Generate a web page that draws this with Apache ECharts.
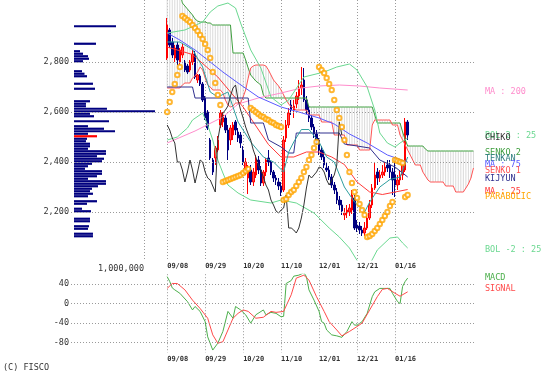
<!DOCTYPE html>
<html><head><meta charset="utf-8">
<script src="https://cdn.jsdelivr.net/npm/echarts@6/dist/echarts.min.js"></script>
<style>html,body{margin:0;padding:0;background:#fff}#c{width:559px;height:382px}</style>
</head><body><div id="c"></div>
<script>
const PAD = 38;      // empty day slots left of 09/08 (volume-by-price area)
const LAST = 122;    // last day slot (cloud projected 26 days ahead)
const dateLabels = ['09/08','09/29','10/20','11/10','12/01','12/21','01/16'];
const dateIdx = [0,15,30,45,60,75,90];
const volLineIdx = -9;
const priceTicks = [2200,2400,2600,2800];
const macdTicks = [40,0,-40,-80];

// daily candles [open, close, low, high], day 0 = 09/08
const candles = [
[2816,2948,2808,2976],[2928,2868,2856,2936],[2880,2828,2816,2896],[2816,2856,2800,2868],[2868,2808,2788,2880],
[2800,2848,2788,2856],[2828,2860,2816,2872],[2800,2768,2760,2808],[2784,2760,2752,2792],[2768,2800,2760,2808],
[2800,2832,2788,2848],[2832,2740,2732,2844],[2728,2748,2716,2752],[2744,2712,2704,2752],[2712,2648,2640,2720],
[2656,2576,2568,2664],[2600,2536,2528,2608],[2488,2416,2408,2496],[2408,2360,2348,2416],[2416,2456,2388,2464],
[2448,2488,2440,2504],[2548,2596,2536,2608],[2560,2588,2540,2600],[2576,2528,2516,2588],[2528,2448,2408,2548],
[2488,2536,2468,2548],[2508,2548,2488,2560],[2560,2528,2508,2568],[2520,2496,2480,2536],[2508,2476,2456,2520],
[2448,2400,2388,2464],[2368,2400,2348,2416],[2336,2368,2272,2388],[2368,2320,2308,2388],[2320,2360,2304,2376],
[2348,2408,2336,2428],[2408,2368,2352,2424],[2368,2316,2304,2384],[2316,2360,2304,2368],[2360,2408,2344,2416],
[2416,2400,2384,2448],[2400,2360,2348,2408],[2360,2336,2320,2368],[2336,2328,2308,2348],[2320,2304,2288,2336],
[2304,2280,2264,2320],[2288,2488,2280,2504],[2496,2548,2480,2568],[2548,2596,2536,2616],[2628,2608,2588,2648],
[2608,2624,2576,2648],[2632,2664,2616,2680],[2664,2696,2648,2728],[2696,2708,2668,2780],[2728,2648,2640,2776],
[2648,2608,2592,2664],[2608,2576,2560,2624],[2576,2540,2528,2588],[2540,2512,2496,2552],[2512,2488,2468,2528],
[2488,2448,2428,2496],[2448,2420,2408,2464],[2420,2388,2376,2448],[2376,2368,2360,2400],[2368,2340,2328,2384],
[2340,2308,2296,2352],[2308,2288,2272,2320],[2280,2248,2232,2296],[2248,2228,2208,2264],[2228,2204,2188,2248],
[2188,2196,2168,2216],[2196,2208,2176,2228],[2200,2216,2184,2232],[2208,2268,2192,2288],[2256,2136,2128,2268],
[2148,2136,2120,2168],[2144,2128,2112,2160],[2128,2116,2104,2144],[2116,2136,2104,2160],[2136,2176,2128,2192],
[2176,2228,2168,2248],[2228,2296,2216,2312],[2296,2348,2288,2400],[2360,2336,2308,2376],[2336,2348,2320,2368],
[2348,2360,2336,2388],[2360,2380,2344,2400],[2388,2376,2360,2408],[2388,2360,2336,2408],[2360,2328,2268,2376],
[2348,2308,2260,2420],[2308,2328,2288,2348],[2328,2348,2308,2368],[2348,2388,2328,2408],[2368,2560,2360,2576],
[2560,2508,2488,2568]
];

// lagging span (plotted from day 0)
const chiko = [2548,2528,2496,2476,2400,2400,2368,2320,2360,2408,2368,2316,2360,2408,2400,2360,2336,2328,2304,2280,
2488,2548,2596,2608,2624,2664,2696,2708,2648,2608,2576,2540,2512,2488,2448,2420,2388,2368,2340,2308,
2288,2248,2228,2204,2196,2208,2216,2268,2136,2136,2128,2116,2136,2176,2228,2296,2348,2336,2348,2360,
2380,2376,2360,2328,2308,2328,2348,2388,2560,2508];

// leading spans, day 0..121
const senko2 = [3080,3080,3080,3080,3080,3080,3036,3024,3012,3000,2988,2972,2964,2960,2960,2960,2956,2956,
2948,2948,2948,2948,2948,2948,2948,2948,2836,2836,2836,2836,2836,2808,2776,2748,2736,2724,2716,2708,2668,
2656,2656,2656,2656,2656,2656,2656,2656,2656,2656,2656,2656,2656,2656,2656,2656,2656,
2620,2620,2620,2620,2620,2620,2620,2620,2620,2620,2620,2620,2620,2620,2620,2620,2620,2620,2620,2620,2620,2620,2620,2620,2620,2620,
2588,2556,2556,2556,2556,2556,2556,2556,2556,2556,2556,2520,2490,2464,2464,2464,2464,2464,2464,2464,2452,
2444,2444,2444,2444,2444,2444,2444,2444,2444,2444,2444,2444,2444,2444,2444,2444,2444,2444,2444];
const senko1 = [2696,2696,2696,2696,2696,2696,2708,2716,2716,2716,2736,2744,2760,2780,2768,2736,2708,2700,
2688,2688,2688,2688,2676,2648,2628,2620,2624,2636,2636,2636,2660,2688,2736,2776,2784,2788,2788,2788,2788,
2784,2768,2748,2728,2716,2704,2688,2668,2648,2632,2620,2616,2608,2608,2608,2608,2608,2588,2588,2588,2588,2588,
2560,2560,2560,2560,2560,2508,2508,2508,2508,2508,2468,2468,2468,2468,2468,2448,2448,2448,2448,2448,
2548,2568,2568,2568,2568,2568,2568,2568,2548,2548,2548,2508,2488,2468,2448,2428,2408,2388,2388,2388,
2360,2344,2328,2320,2320,2320,2320,2320,2320,2304,2304,2304,2304,2280,2280,2280,2280,2296,2312,2336,2376];

const ma200 = [[0,2476],[11,2524],[22,2580],[28,2632],[36,2656],[45,2676],[53,2696],[60,2704],[68,2708],[76,2704],[84,2696],[95,2688]];
const ma75 = [[0,2916],[5,2888],[11,2848],[17,2800],[22,2760],[28,2716],[36,2660],[45,2620],[52,2600],[60,2576],[66,2552],[72,2512],[79,2476],[87,2428],[95,2400]];
const ma25 = [[0,2860],[10,2830],[20,2740],[30,2620],[40,2470],[45,2420],[50,2420],[55,2440],[60,2440],[65,2420],[70,2390],[75,2320],[80,2280],[85,2270],[90,2280],[95,2290]];
const bolUp = [[0,2916],[7,2928],[14,2960],[17,3000],[20,3024],[24,3036],[27,3016],[29,2956],[33,2848],[37,2776],[41,2660],[45,2628],[48,2648],[54,2740],[62,2760],[67,2780],[72,2792],[75,2768],[79,2700],[82,2608],[84,2516],[87,2476],[90,2460],[92,2476],[95,2496]];
const bolDn = [[0,2488],[4,2500],[8,2536],[10,2568],[14,2596],[16,2548],[18,2488],[20,2408],[22,2356],[24,2308],[28,2276],[33,2248],[41,2236],[45,2248],[51,2236],[58,2196],[64,2136],[68,2100],[72,2056],[76,1990],[80,1990],[83,2048],[88,2096],[91,2100],[93,2076],[95,2056]];
const kijyun = [[0,2700],[10,2700],[11,2656],[32,2656],[33,2556],[38,2556],[40,2488],[45,2460],[48,2436],[50,2436],[51,2516],[68,2516],[70,2472],[80,2456],[84,2408],[90,2380],[95,2340]];
const tenkan = [[0,2880],[5,2880],[10,2850],[14,2780],[17,2680],[20,2660],[24,2680],[28,2560],[33,2480],[38,2420],[42,2400],[46,2360],[48,2440],[50,2480],[53,2530],[56,2530],[60,2480],[63,2420],[66,2400],[70,2300],[74,2240],[78,2200],[80,2240],[84,2300],[88,2330],[92,2340],[95,2420]];
const sar = [2600,2640,2680,2712,2748,2780,2984,2976,2968,2960,2948,2936,2924,2908,2892,2872,2848,2816,2760,2716,2668,2628,
2320,2324,2328,2332,2336,2340,2344,2348,2356,2364,2372,2616,2608,2600,2592,2584,2580,2572,2568,2560,2556,2548,2544,2540,
2248,2252,2268,2280,2288,2304,2320,2336,2360,2380,2408,2428,2456,2480,2780,2768,2756,2736,2712,2688,2648,2608,2576,2540,
2488,2428,2360,2316,2280,2256,2232,2208,2188,2100,2104,2112,2124,2136,2152,2168,2184,2200,2224,2240,2408,2404,2400,2396,2260,2268];

const macd = [[0,55],[1,45],[2,32],[3,28],[5,21],[8,4],[10,-13],[11,-6],[13,-16],[15,-37],[16,-68],[18,-95],[20,-81],[22,-57],[24,-16],[26,-30],[27,-6],[29,-13],[31,-23],[33,-40],[35,-23],[38,-13],[39,-23],[41,-18],[43,-20],[45,-27],[46,-26],[47,41],[49,47],[50,56],[52,58],[54,63],[55,55],[56,28],[58,7],[60,-16],[61,-37],[62,-40],[63,-54],[65,-64],[67,-66],[69,-69],[71,-57],[73,-37],[74,-44],[75,-44],[77,-37],[79,-20],[81,14],[82,24],[84,31],[86,31],[88,31],[89,21],[91,4],[92,0],[93,35],[94,45],[95,52]];
const signal = [[0,31],[2,41],[4,41],[7,28],[10,7],[13,-10],[16,-30],[18,-64],[20,-81],[22,-78],[24,-54],[26,-30],[28,-20],[30,-13],[32,-16],[35,-30],[38,-28],[41,-16],[43,-18],[46,-16],[49,18],[51,52],[54,58],[56,48],[59,14],[62,-16],[64,-37],[67,-54],[69,-66],[72,-57],[75,-47],[77,-40],[80,-13],[83,14],[85,29],[87,31],[90,21],[92,15],[95,24]];

// volume by price
const vpPrice = [2943,2873,2843,2833,2823,2813,2803,2763,2753,2743,2713,2693,2643,2633,2623,2613,2603,2593,2583,2563,2543,2533,2523,2513,2503,2493,2483,2473,2463,2453,2443,2433,2423,2413,2403,2393,2383,2373,2363,2353,2343,2333,2323,2313,2303,2293,2283,2273,2263,2243,2233,2213,2203,2173,2163,2143,2133,2113,2103];
const vpVol = [600,314,86,129,200,214,129,114,150,186,271,300,229,171,171,471,1157,229,286,500,200,429,586,200,329,186,171,229,229,200,457,457,329,429,400,257,200,157,400,400,329,200,457,457,343,257,229,271,200,329,186,114,243,229,229,214,200,271,271].map(v => v * 1000);
const currentLevel = 2503;

// ---------- build ----------
const MONO = '"DejaVu Sans Mono", monospace';
const cats = [];
for (let i = -PAD; i <= LAST; i++) cats.push(String(i));
const X = i => i + PAD;
const pairs = arr => arr.map(([i, v]) => [X(i), v]);
const seq = arr => arr.map((v, i) => [X(i), v]);

const bucketCats = [];
for (let k = 0; k < 104; k++) bucketCats.push(String(2013 + 10 * k));
const vpData = bucketCats.map(() => null);
vpPrice.forEach((p, j) => {
  const k = Math.round((p - 2013) / 10);
  vpData[k] = { value: vpVol[j], itemStyle: { color: p === currentLevel ? '#ff0000' : '#000080' } };
});

const hatchBase = [], hatchTop = [];
senko1.forEach((a, i) => {
  const b = senko2[i];
  hatchBase.push([X(i), Math.min(a, b)]);
  hatchTop.push([X(i), Math.abs(a - b)]);
});

const mainLineSet = new Set([volLineIdx, ...dateIdx].map(X));
const dateSet = new Set(dateIdx.map(X));
const dotted = { color: '#9a9a9a', type: [1, 2], width: 1 };

function catAxis(gridIndex, withVol) {
  return {
    type: 'category', gridIndex, data: cats, boundaryGap: false,
    axisLine: { show: false }, axisTick: { show: false },
    axisLabel: {
      interval: idx => dateSet.has(idx), align: 'left', margin: 3,
      fontSize: 7, fontWeight: 'bold', fontFamily: MONO, color: '#333',
      formatter: v => { const k = dateIdx.indexOf(Number(v)); return k >= 0 ? dateLabels[k] : ''; }
    },
    splitLine: { show: true, interval: idx => (withVol ? mainLineSet : dateSet).has(idx), lineStyle: dotted }
  };
}
function line(name, data, color, xi = 0, yi = 0, z = 3) {
  return { name, type: 'line', xAxisIndex: xi, yAxisIndex: yi, data, symbol: 'none', z,
           lineStyle: { color, width: 1 }, animation: false, silent: true };
}
function gridLines(values, xi, yi) {
  return { type: 'line', xAxisIndex: xi, yAxisIndex: yi, data: [[X(0), values[0]]], symbol: 'none',
           lineStyle: { opacity: 0 }, silent: true, z: 1,
           markLine: { silent: true, symbol: 'none', label: { show: false }, lineStyle: dotted, animation: false,
                       data: values.map(v => ({ yAxis: v })) } };
}

const chart = echarts.init(document.getElementById('c'), null, { renderer: 'canvas' });
chart.setOption({
  animation: false,
  backgroundColor: '#ffffff',
  grid: [
    { left: 71, right: 83, top: 0, height: 260 },
    { left: 74, width: 70, top: 0, height: 260 },
    { left: 71, right: 83, top: 274.2, height: 78.3 }
  ],
  xAxis: [
    catAxis(0, true),
    { type: 'value', gridIndex: 1, min: 0, max: 1000000, interval: 1000000,
      axisLine: { show: false }, axisTick: { show: false }, splitLine: { show: false },
      axisLabel: { align: 'right', margin: 4, fontSize: 8.5, fontFamily: MONO, color: '#333',
                   formatter: v => v === 1000000 ? '1,000,000' : '' } },
    catAxis(2, false)
  ],
  yAxis: [
    { type: 'value', gridIndex: 0, min: 2008, max: 3048, interval: 8,
      axisLine: { show: false }, axisTick: { show: false }, splitLine: { show: false },
      axisLabel: { margin: 2, fontSize: 8.5, fontFamily: MONO, color: '#333',
                   formatter: v => priceTicks.includes(v) ? v.toLocaleString('en-US') : '' } },
    { type: 'category', gridIndex: 1, data: bucketCats, show: false },
    { type: 'value', gridIndex: 2, min: -100, max: 60, interval: 20,
      axisLine: { show: false }, axisTick: { show: false }, splitLine: { show: false },
      axisLabel: { margin: 2, fontSize: 8.5, fontFamily: MONO, color: '#333',
                   formatter: v => macdTicks.includes(v) ? String(v) : '' } }
  ],
  series: [
    gridLines(priceTicks, 0, 0),
    gridLines(macdTicks, 2, 2),
    { type: 'bar', xAxisIndex: 1, yAxisIndex: 1, data: vpData, barWidth: 2.2, clip: false, silent: true, z: 2 },
    { type: 'bar', xAxisIndex: 0, yAxisIndex: 0, stack: 'kumo', data: hatchBase, barWidth: 1,
      itemStyle: { color: 'rgba(0,0,0,0)' }, silent: true, z: 1 },
    { type: 'bar', xAxisIndex: 0, yAxisIndex: 0, stack: 'kumo', data: hatchTop, barWidth: 0.8,
      itemStyle: { color: '#dadada' }, silent: true, z: 1 },
    { type: 'candlestick', xAxisIndex: 0, yAxisIndex: 0, barWidth: 2, z: 2, silent: true,
      data: candles.map((d, i) => [X(i), d[0], d[1], d[2], d[3]]),
      encode: { x: 0, y: [1, 2, 3, 4] },
      itemStyle: { color: '#ff4a4a', color0: '#000080', borderColor: '#ff0000', borderColor0: '#000080', borderWidth: 1 } },
    line('SENKO 2', seq(senko2), '#3f9f3f'),
    line('SENKO 1', seq(senko1), '#ff5555'),
    line('MA200', pairs(ma200), '#ff8ccc'),
    line('MA75', pairs(ma75), '#5a5aff'),
    line('MA25', pairs(ma25), '#ff3a3a'),
    line('BOL2', pairs(bolUp), '#6ad890'),
    line('BOL-2', pairs(bolDn), '#6ad890'),
    line('KIJYUN', pairs(kijyun), '#30308f'),
    line('TENKAN', pairs(tenkan), '#2f9f9f'),
    line('CHIKO', seq(chiko), '#333333'),
    { type: 'scatter', xAxisIndex: 0, yAxisIndex: 0, data: seq(sar), symbol: 'emptyCircle', symbolSize: 4.4,
      itemStyle: { color: '#ffa500', borderWidth: 1 }, silent: true, z: 5 },
    line('MACD', pairs(macd), '#4caf4c', 2, 2),
    line('SIGNAL', pairs(signal), '#ff4a4a', 2, 2)
  ],
  graphic: [
    ['MA : 200', '#ff8ccc', 92],
    ['BOL 2 : 25', '#6ad890', 136],
    ['CHIKO', '#333333', 138],
    ['SENKO 2', '#3f9f3f', 153],
    ['TENKAN', '#2f7f7f', 159],
    ['MA : 75', '#5a5aff', 165],
    ['SENKO 1', '#ff5555', 170.5],
    ['KIJYUN', '#30308f', 179],
    ['MA : 25', '#ff3a3a', 192],
    ['PARABOLIC', '#ffa500', 196.5],
    ['BOL -2 : 25', '#6ad890', 250],
    ['MACD', '#4caf4c', 277.5],
    ['SIGNAL', '#ff4a4a', 288.5]
  ].map(([t, c, y]) => ({ type: 'text', x: 485, y, silent: true, z: 10,
      style: { text: t, fill: c, font: '8.5px ' + MONO, verticalAlign: 'middle', textVerticalAlign: 'middle' } }))
    .concat([{ type: 'text', x: 3, y: 368, silent: true,
      style: { text: '(C) FISCO', fill: '#333', font: '8.5px ' + MONO, verticalAlign: 'middle', textVerticalAlign: 'middle' } }])
});
</script></body></html>
